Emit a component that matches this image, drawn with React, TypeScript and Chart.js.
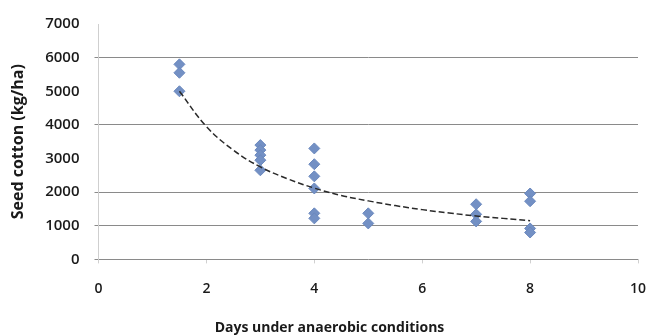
import React, { useEffect, useRef } from "react";
import { Chart, registerables } from "chart.js";

Chart.register(...registerables);

const xTicks = [0, 2, 4, 6, 8, 10];
const yTicks = [0, 1000, 2000, 3000, 4000, 5000, 6000, 7000];
const hiddenGrid = [3000, 5000, 7000];

const obsX = [1.5, 1.5, 1.5, 3, 3, 3, 3, 3, 4, 4, 4, 4, 4, 4, 5, 5, 7, 7, 7, 8, 8, 8, 8];
const obsY = [5800, 5550, 5000, 3400, 3250, 3100, 2950, 2650, 3300, 2830, 2470, 2110, 1370, 1220, 1370, 1070, 1640, 1340, 1130, 1960, 1730, 920, 800];

const trendX = [1.5, 2, 2.5, 3, 3.5, 4, 4.5, 5, 5.5, 6, 6.5, 7, 7.5, 8];
const trendY = [5000, 3950, 3250, 2750, 2400, 2120, 1900, 1740, 1600, 1480, 1380, 1290, 1220, 1150];

const xTitle = "Days under anaerobic conditions";
const yTitle = "Seed cotton (kg/ha)";

export default function App() {
  const ref = useRef<HTMLCanvasElement | null>(null);
  useEffect(() => {
    if (!ref.current) return;
    const font = "'Open Sans', 'DejaVu Sans', sans-serif";
    const chart = new Chart(ref.current, {
      type: "scatter",
      data: {
        datasets: [
          {
            type: "line",
            label: "trend",
            data: trendX.map((x, i) => ({ x, y: trendY[i] })),
            borderColor: "#2a2a2a",
            borderWidth: 1.5,
            borderDash: [6, 3],
            pointRadius: 0,
            tension: 0.4,
            fill: false,
          },
          {
            label: "obs",
            data: obsX.map((x, i) => ({ x, y: obsY[i] })),
            pointStyle: "rectRot",
            pointRadius: 5.5,
            backgroundColor: "#7390c4",
            borderColor: "#6a88be",
            borderWidth: 1,
          },
        ],
      },
      options: {
        animation: false,
        responsive: false,
        layout: { padding: { top: 15, right: 0, bottom: 0, left: 9 } },
        plugins: {
          legend: { display: false },
          tooltip: { enabled: false },
          title: {
            display: true,
            position: "bottom",
            text: xTitle,
            color: "#1a1a1a",
            font: { family: font, size: 14, weight: "bold" },
            padding: { top: 5, bottom: 0 },
          },
        },
        scales: {
          x: {
            type: "linear",
            min: 0,
            max: 10,
            afterBuildTicks: (s: any) => {
              s.ticks = xTicks.map((v) => ({ value: v }));
            },
            afterFit: (s: any) => {
              s.paddingRight = 12;
              s.paddingLeft = 0;
            },
            grid: { drawOnChartArea: false, drawTicks: true, tickLength: 4, color: "#d0d0d0" },
            border: { display: false },
            ticks: {
              color: "#1a1a1a",
              font: { family: font, size: 14, weight: "600" },
              padding: 17,
              callback: (v: any) => String(v),
            },
          },
          y: {
            type: "linear",
            min: 0,
            max: 7000,
            afterBuildTicks: (s: any) => {
              s.ticks = yTicks.map((v) => ({ value: v }));
            },
            grid: {
              color: (c: any) => (hiddenGrid.includes(c.tick?.value) ? "rgba(0,0,0,0)" : "#8a8a8a"),
              lineWidth: 1,
              tickLength: 4,
            },
            border: { display: true, color: "#cfcfcf" },
            ticks: {
              color: "#1a1a1a",
              font: { family: font, size: 15, weight: "600" },
              padding: 15,
              callback: (v: any) => String(v),
            },
            title: {
              display: true,
              text: yTitle,
              color: "#1a1a1a",
              font: { family: font, size: 16, weight: "bold" },
              padding: { top: 0, bottom: 2 },
            },
          },
        },
      },
    });
    return () => chart.destroy();
  }, []);
  return (
    <div style={{ position: "fixed", left: 0, top: 0, width: 650, height: 336, background: "#fff" }}>
      <canvas ref={ref} width={650} height={336} />
    </div>
  );
}
